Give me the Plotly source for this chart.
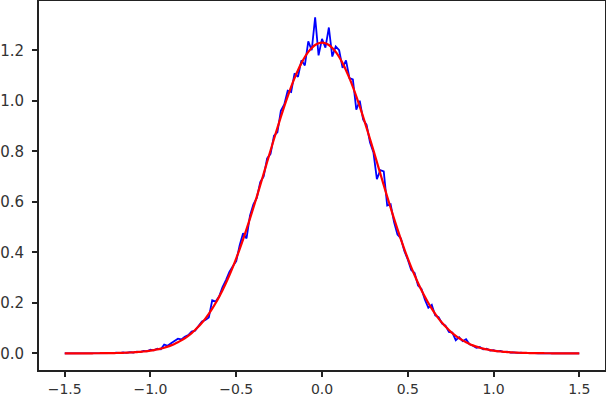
import plotly.graph_objects as go

# x grid: -1.50 .. 1.50, step 0.02 (151 bins)
x_vals = [round(-1.5 + 0.02 * i, 2) for i in range(151)]

# Noisy histogram-like series (blue)
hist_vals = [
    # -1.50 .. -1.02
    0.000, 0.000, 0.000, 0.000, 0.000, 0.000, 0.000, 0.000, 0.001, 0.000,
    0.000, 0.001, 0.000, 0.002, 0.001, 0.003, 0.001, 0.004, 0.002, 0.005,
    0.003, 0.007, 0.005, 0.010, 0.008,
    # -1.00 .. -0.52
    0.014, 0.012, 0.018, 0.016, 0.035, 0.030, 0.040, 0.048, 0.058, 0.055,
    0.066, 0.072, 0.086, 0.090, 0.108, 0.126, 0.132, 0.142, 0.210, 0.205,
    0.225, 0.262, 0.290, 0.322, 0.345,
    # -0.50 .. -0.02
    0.365, 0.428, 0.475, 0.455, 0.545, 0.590, 0.615, 0.678, 0.700, 0.772,
    0.790, 0.862, 0.875, 0.960, 0.985, 1.040, 1.035, 1.108, 1.095, 1.160,
    1.140, 1.235, 1.200, 1.330, 1.180,
    # 0.00
    1.245,
    # 0.02 .. 0.50
    1.210, 1.290, 1.175, 1.215, 1.200, 1.130, 1.160, 1.090, 1.085, 0.965,
    1.000, 0.925, 0.905, 0.835, 0.795, 0.690, 0.725, 0.720, 0.585, 0.590,
    0.520, 0.470, 0.455, 0.405, 0.372,
    # 0.52 .. 1.00
    0.330, 0.318, 0.268, 0.255, 0.212, 0.180, 0.192, 0.150, 0.143, 0.118,
    0.110, 0.085, 0.082, 0.052, 0.064, 0.048, 0.056, 0.036, 0.030, 0.022,
    0.025, 0.016, 0.018, 0.011, 0.013,
    # 1.02 .. 1.50
    0.008, 0.010, 0.005, 0.007, 0.003, 0.004, 0.002, 0.003, 0.001, 0.002,
    0.000, 0.001, 0.000, 0.001, 0.000, 0.000, 0.000, 0.000, 0.000, 0.000,
    0.000, 0.000, 0.000, 0.000, 0.000,
]

# Smooth fitted curve (red)
fit_right = [
    1.2300, 1.2277, 1.2207, 1.2092, 1.1933, 1.1731, 1.1490, 1.1210, 1.0896, 1.0551,
    1.0176, 0.9779, 0.9361, 0.8929, 0.8484, 0.8033, 0.7575, 0.7115, 0.6658, 0.6207,
    0.5763, 0.5333, 0.4916, 0.4513, 0.4130, 0.3762, 0.3416, 0.3090, 0.2785, 0.2500,
    0.2236, 0.1992, 0.1768, 0.1564, 0.1377, 0.1210, 0.1058, 0.0921, 0.0801, 0.0692,
    0.0596, 0.0511, 0.0435, 0.0370, 0.0314, 0.0265, 0.0223, 0.0187, 0.0156, 0.0130,
    0.0108, 0.0089, 0.0073, 0.0060, 0.0049, 0.0040, 0.0032, 0.0026, 0.0021, 0.0016,
    0.0013, 0.0010, 0.0008, 0.0006, 0.0005, 0.0004, 0.0003, 0.0002, 0.0002, 0.0001,
    0.0001, 0.0000, 0.0000, 0.0000, 0.0000, 0.0000,
]
fit_vals = fit_right[:0:-1] + fit_right

x_ticks = [-1.5, -1.0, -0.5, 0.0, 0.5, 1.0, 1.5]
x_tick_text = ["\u22121.5", "\u22121.0", "\u22120.5", "0.0", "0.5", "1.0", "1.5"]
y_ticks = [0.0, 0.2, 0.4, 0.6, 0.8, 1.0, 1.2]
y_tick_text = ["0.0", "0.2", "0.4", "0.6", "0.8", "1.0", "1.2"]

fig = go.Figure()
fig.add_trace(go.Scatter(x=x_vals, y=hist_vals, mode="lines",
                         line=dict(color="#0000ff", width=1.8), showlegend=False))
fig.add_trace(go.Scatter(x=x_vals, y=fit_vals, mode="lines", line_shape="spline",
                         line=dict(color="#ff0000", width=2.2), showlegend=False))

axis_common = dict(showgrid=False, zeroline=False, showline=True, linecolor="#222222",
                   linewidth=2, mirror=True, ticks="outside", ticklen=5, tickwidth=1.5,
                   tickcolor="#222222", automargin=False)

fig.update_layout(
    width=606, height=396,
    margin=dict(l=39, r=1, t=1, b=26),
    paper_bgcolor="white", plot_bgcolor="white",
    xaxis=dict(range=[-1.65, 1.65], tickvals=x_ticks, ticktext=x_tick_text,
               ticklabelstandoff=0,
               tickfont=dict(family="DejaVu Sans", size=14, color="#333333"),
               **axis_common),
    yaxis=dict(range=[-0.066, 1.395], tickvals=y_ticks, ticktext=y_tick_text,
               ticklabelstandoff=5,
               tickfont=dict(family="DejaVu Sans", size=15, color="#333333"),
               **axis_common),
)

fig.write_html("out.html", config={"displayModeBar": False},
               post_script="document.body.style.margin='0px';document.body.style.overflow='hidden';")
